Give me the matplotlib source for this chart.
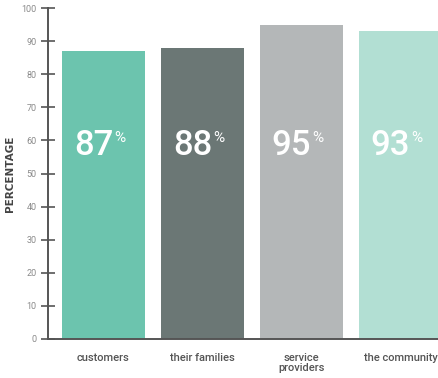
"""Bar chart: share of respondents (percentage) per group."""
import matplotlib
matplotlib.use("Agg")
import matplotlib.pyplot as plt
import numpy as np

CATEGORIES = ["customers", "their families", "service\nproviders", "the community"]
VALUES = [87, 88, 95, 93]
COLORS = ["#6cc4ae", "#6b7775", "#b4b7b8", "#b2dfd3"]
YTICKS = list(range(0, 101, 10))

plt.rcParams["font.family"] = ["Roboto", "DejaVu Sans"]

fig = plt.figure(figsize=(4.38, 3.78), dpi=100)
ax = fig.add_axes([48 / 438, 39 / 378, 390 / 438, 331 / 378])

x = np.arange(len(VALUES))
ax.bar(x, VALUES, 0.84, color=COLORS, zorder=2)

ax.set_xlim(-0.56, 3.38)
ax.set_ylim(0, 100)
ax.set_yticks(YTICKS)
ax.tick_params(axis="y", direction="inout", length=10, width=1.2,
               color="#555555", labelsize=6.5, labelcolor="#8a8a8a", pad=3)
ax.set_xticks(x)
ax.set_xticklabels(CATEGORIES, fontsize=8, color="#555555",
                   fontweight="medium", linespacing=1.0)
ax.tick_params(axis="x", length=0, pad=10)
for s in ("top", "right"):
    ax.spines[s].set_visible(False)
for s in ("left", "bottom"):
    ax.spines[s].set_color("#555555")
    ax.spines[s].set_linewidth(1.4)

ax.set_ylabel("PERCENTAGE", fontsize=7.5, fontweight="bold", color="#444444",
              family="DejaVu Sans")
ax.yaxis.set_label_coords(-0.085, 0.5)

# big white value with a small raised percent sign
for xi, v in zip(x, VALUES):
    ax.text(xi + 0.1, 55.6, str(v), color="white", fontsize=25,
            fontweight="medium", ha="right", va="baseline", zorder=3)
    ax.text(xi + 0.105, 59.5, "%", color="white", fontsize=11,
            ha="left", va="baseline", zorder=3)

fig.savefig("out.png", dpi=100)
